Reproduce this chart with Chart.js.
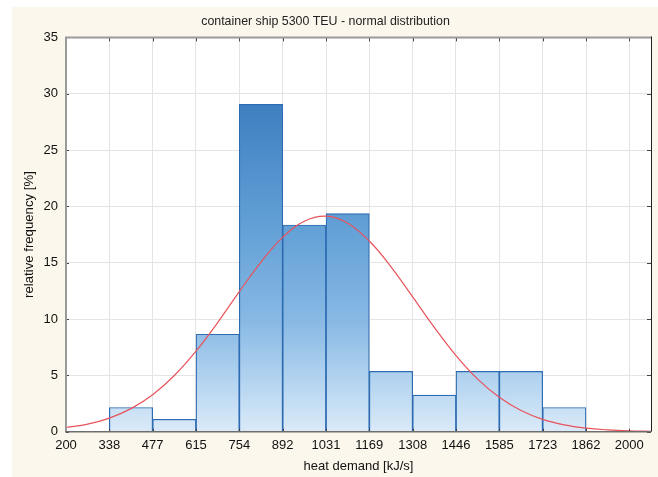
<!DOCTYPE html>
<html>
<head>
<meta charset="utf-8">
<script src="https://cdn.jsdelivr.net/npm/chart.js@4"></script>
<style>
  body { margin: 0; background: #fff; }
</style>
</head>
<body>
<canvas id="histChart" width="658" height="477"></canvas>
<script>
// bin edges of the histogram (class width 138.46 kJ/s)
const binEdges = [200, 338.46, 476.92, 615.38, 753.85, 892.31, 1030.77, 1169.23,
  1307.69, 1446.15, 1584.62, 1723.08, 1861.54, 2000];
const tickLabels = ['200', '338', '477', '615', '754', '892', '1031', '1169',
  '1308', '1446', '1585', '1723', '1862', '2000'];

// relative frequency [%] for bins 338-477 ... 1723-1862
const relFreq = [2.15, 1.1, 8.65, 29.05, 18.35, 19.35, 5.35, 3.25, 5.35, 5.35, 2.15];

const curveX = [200, 269.2, 338.5, 407.7, 476.9, 546.2, 615.4, 684.6, 753.8, 823.1,
  892.3, 961.5, 1030.8, 1100, 1169.2, 1238.5, 1307.7, 1376.9, 1446.2, 1515.4,
  1584.6, 1653.8, 1723.1, 1792.3, 1861.5, 1930.8, 2000, 2069.2];
const curveY = [0.37, 0.67, 1.21, 2.05, 3.28, 4.99, 7.15, 9.69, 12.43, 15.06,
  17.25, 18.68, 19.13, 18.51, 16.93, 14.64, 11.97, 9.26, 6.76, 4.67,
  3.05, 1.88, 1.10, 0.61, 0.32, 0.16, 0.07, 0.03];

const xMax = 2069.23;
const fontFamily = "'Liberation Sans', Arial, sans-serif";

document.addEventListener('DOMContentLoaded', function() {
  initHistChart();
});

function barGradient(context) {
  const area = context.chart.chartArea;
  if (!area) return '#7aaee0';
  const g = context.chart.ctx.createLinearGradient(0, area.top, 0, area.bottom);
  g.addColorStop(0, '#2b6eb6');
  g.addColorStop(0.17, '#3e7fc0');
  g.addColorStop(0.48, '#62a0d6');
  g.addColorStop(0.72, '#88b9e4');
  g.addColorStop(0.86, '#b0d2ef');
  g.addColorStop(1, '#dbeaf8');
  return g;
}

// cream page, white plot, frame and inward tick marks
const framePlugin = {
  id: 'frame',
  beforeDraw(chart) {
    const ctx = chart.ctx;
    const a = chart.chartArea;
    ctx.save();
    ctx.fillStyle = '#ffffff';
    ctx.fillRect(0, 0, chart.width, chart.height);
    ctx.fillStyle = '#fcf7ec';
    ctx.fillRect(12, 7, chart.width - 12, chart.height - 7);
    ctx.fillStyle = '#ffffff';
    ctx.fillRect(a.left, a.top, a.right - a.left, a.bottom - a.top);
    ctx.restore();
  },
  afterDraw(chart) {
    const ctx = chart.ctx;
    const a = chart.chartArea;
    const xs = chart.scales.x;
    const ys = chart.scales.y;
    ctx.save();
    ctx.lineWidth = 1;
    ctx.strokeStyle = '#444';
    xs.ticks.forEach(t => {
      const px = Math.round(xs.getPixelForValue(t.value)) + 0.5;
      ctx.beginPath();
      ctx.moveTo(px, a.top); ctx.lineTo(px, a.top + 4);
      ctx.moveTo(px, a.bottom); ctx.lineTo(px, a.bottom - 3);
      ctx.stroke();
    });
    ys.ticks.forEach(t => {
      const py = Math.round(ys.getPixelForValue(t.value)) + 0.5;
      ctx.beginPath();
      ctx.moveTo(a.left, py); ctx.lineTo(a.left + 3, py);
      ctx.moveTo(a.right, py); ctx.lineTo(a.right - 4, py);
      ctx.stroke();
    });
    // frame
    ctx.lineWidth = 2;
    ctx.strokeStyle = '#9a9a9a';
    ctx.beginPath();
    ctx.moveTo(a.left, a.bottom); ctx.lineTo(a.left, a.top); ctx.lineTo(a.right, a.top);
    ctx.stroke();
    ctx.lineWidth = 1.5;
    ctx.strokeStyle = '#6e6e6e';
    ctx.beginPath();
    ctx.moveTo(a.left - 1, a.bottom); ctx.lineTo(a.right, a.bottom);
    ctx.stroke();
    ctx.lineWidth = 1;
    ctx.strokeStyle = '#222';
    ctx.beginPath();
    ctx.moveTo(a.right + 0.5, a.top - 1); ctx.lineTo(a.right + 0.5, a.bottom);
    ctx.stroke();
    ctx.restore();
  }
};

function initHistChart() {
  const barData = relFreq.map((v, i) => ({
    x: (binEdges[i + 1] + binEdges[i + 2]) / 2,
    y: v
  }));
  const curveData = curveX.map((x, i) => ({ x: x, y: curveY[i] }));

  const ctx = document.getElementById('histChart').getContext('2d');
  new Chart(ctx, {
    type: 'bar',
    data: {
      datasets: [{
        type: 'line',
        data: curveData,
        borderColor: '#e8535b',
        borderWidth: 1.2,
        pointRadius: 0,
        tension: 0.4,
        fill: false,
        order: 1
      }, {
        type: 'bar',
        data: barData,
        backgroundColor: barGradient,
        borderColor: '#2d6bb2',
        borderWidth: 1.2,
        barPercentage: 1,
        categoryPercentage: 1,
        order: 2
      }]
    },
    plugins: [framePlugin],
    options: {
      responsive: false,
      animation: false,
      layout: { padding: { left: 0, right: 7, top: 0, bottom: 0 } },
      plugins: {
        legend: { display: false },
        tooltip: { enabled: false },
        title: {
          display: true,
          text: 'container ship 5300 TEU - normal distribution',
          color: '#222',
          font: { family: fontFamily, size: 12.4, weight: 'normal' },
          padding: { top: 14, bottom: 8.5 }
        }
      },
      scales: {
        x: {
          type: 'linear',
          min: 200,
          max: xMax,
          offset: false,
          afterFit: s => { s.height = 45.3; },
          afterBuildTicks: s => { s.ticks = binEdges.map(v => ({ value: v })); },
          grid: { color: '#e4e4e4', drawTicks: false, offset: false },
          border: { display: false },
          ticks: {
            autoSkip: false,
            maxRotation: 0,
            padding: 6,
            color: '#111',
            font: { family: fontFamily, size: 13 },
            callback: (v, i) => tickLabels[i]
          },
          title: {
            display: true,
            text: 'heat demand [kJ/s]',
            color: '#111',
            font: { family: fontFamily, size: 13 },
            padding: { top: 0, bottom: 3 }
          }
        },
        y: {
          min: 0,
          max: 35,
          afterFit: s => { s.width = 66; },
          grid: { color: '#e4e4e4', drawTicks: false },
          border: { display: false },
          ticks: {
            stepSize: 5,
            padding: 8,
            color: '#111',
            font: { family: fontFamily, size: 13 }
          },
          title: {
            display: true,
            text: 'relative frequency [%]',
            color: '#111',
            font: { family: fontFamily, size: 13.2 },
            padding: { top: 21, bottom: 0 }
          }
        }
      }
    }
  });
}
</script>
</body>
</html>
